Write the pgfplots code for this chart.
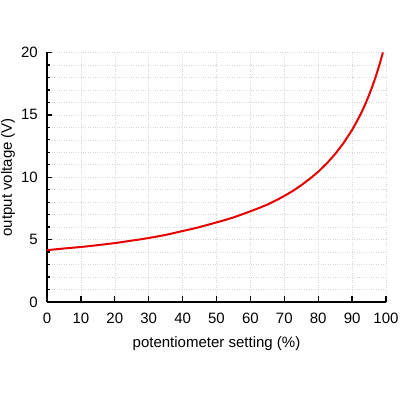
\documentclass[border=0pt]{standalone}
\usepackage{fontspec}
\setmainfont{Liberation Sans}
\usepackage{pgfplots}
\pgfplotsset{compat=1.18}
\begin{document}
\fontsize{15pt}{17pt}\selectfont
\begin{tikzpicture}
\begin{axis}[
  at={(47pt,98pt)}, anchor=south west,
  scale only axis, width=339pt, height=249.5pt,
  xmin=0, xmax=100, ymin=0, ymax=20,
  axis lines=left,
  axis line style={-, line width=1.8pt, black},
  xtick={0,10,...,100}, ytick={0,5,...,20},
  minor y tick num=4,
  tick align=inside,
  major tick length=5.5pt, minor tick length=3.5pt,
  tick style={black, line width=1.3pt},
  grid=both,
  major grid style={dotted, black!15, line width=0.6pt},
  minor grid style={dotted, black!15, line width=0.6pt},
  /pgf/number format/assume math mode=true,
  ticklabel style={font=\fontsize{15pt}{17pt}\selectfont},
  label style={font=\fontsize{15pt}{17pt}\selectfont},
  yticklabel style={xshift=-4pt},
  xticklabel style={yshift=-6pt},
  xlabel={potentiometer setting (\%)},
  ylabel={output voltage (V)},
  x label style={at={(axis description cs:0.5,-0.168)}, anchor=center},
  y label style={at={(axis description cs:-0.115,0.5)}, anchor=center},
]
\addplot[color={rgb,255:red,230;green,0;blue,0}, line width=2pt] coordinates {
(0,4.16) (2.5,4.22) (5,4.29) (7.5,4.35) (10,4.41) (12.5,4.48) (15,4.56) (17.5,4.64) (20,4.72) (22.5,4.82) (25,4.92) (27.5,5.02) (30,5.13)
(32.5,5.25) (35,5.38) (37.5,5.53) (40,5.69) (42.5,5.84) (45,6.01) (47.5,6.19) (50,6.38) (52.5,6.57) (55,6.78) (57.5,7.02) (60,7.27) (62.5,7.53) (65,7.81)
(67.5,8.14) (70,8.50) (72.5,8.90) (75,9.36) (77.5,9.87) (80,10.44)
(82.5,11.10) (85,11.86) (87.5,12.75) (90,13.79) (91,14.28) (92,14.78) (93,15.33) (94,15.93) (95,16.59)
(96,17.30) (97,18.09) (98,18.95) (99.1,20.0)
};
\end{axis}
\pgfresetboundingbox
\useasboundingbox (0,0) rectangle (400pt,400pt);
\end{tikzpicture}
\end{document}
